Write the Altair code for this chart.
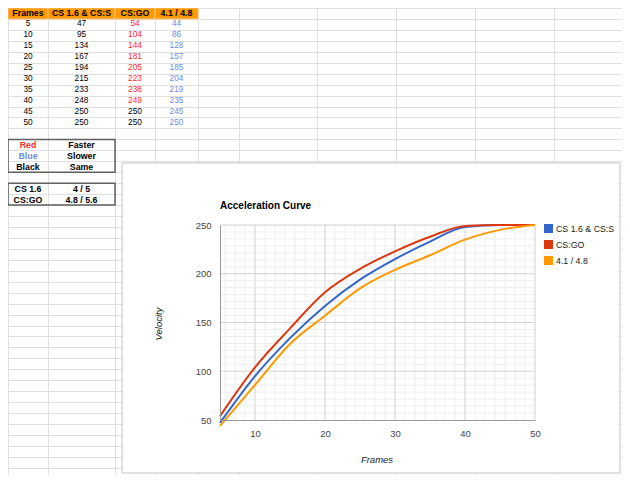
import altair as alt
import pandas as pd

# ---------------- data read from the spreadsheet ----------------
FRAMES = [5, 10, 15, 20, 25, 30, 35, 40, 45, 50]
CS16 = [47, 95, 134, 167, 194, 215, 233, 248, 250, 250]
CSGO = [54, 104, 144, 181, 205, 223, 238, 249, 250, 250]
V41 = [44, 86, 128, 157, 185, 204, 219, 235, 245, 250]
HEADERS = ["Frames", "CS 1.6 & CS:S", "CS:GO", "4.1 / 4.8"]
SERIES = ["CS 1.6 & CS:S", "CS:GO", "4.1 / 4.8"]
KEY_LEFT = ["Red", "Blue", "Black"]
KEY_RIGHT = ["Faster", "Slower", "Same"]
SENS_LEFT = ["CS 1.6", "CS:GO"]
SENS_RIGHT = ["4 / 5", "4.8 / 5.6"]
X_TICKS = [10, 20, 30, 40, 50]
Y_TICKS = [50, 100, 150, 200, 250]

F = "Liberation Sans"
RED = "#ff2a2a"
BLUE = "#6b8de6"
SERIES_COLORS = ["#3366cc", "#dc3912", "#ff9900"]

# ---------------- spreadsheet layers ----------------
COL_EDGES = [0, 40, 107, 147, 190, 231, 309, 388, 467, 546, 625]
ROW_H = 10.95
N_ROWS = 44
SX = alt.Scale(domain=list(range(len(COL_EDGES))), range=COL_EDGES, nice=False, zero=False)
SY = alt.Scale(domain=[0, N_ROWS], range=[0, N_ROWS * ROW_H], nice=False, zero=False)
TONE = alt.Scale(domain=["red", "blue", "black"], range=[RED, BLUE, "#000000"])


def tone_vs_base(v, base):
    if v > base:
        return "red"
    if v < base:
        return "blue"
    return "black"


header_cells = pd.DataFrame({
    "c0": list(range(len(HEADERS))),
    "c1": [i + 1 for i in range(len(HEADERS))],
    "r0": [0] * len(HEADERS),
    "r1": [1] * len(HEADERS),
})

bold_rows, plain_rows = [], []
for j, h in enumerate(HEADERS):
    bold_rows.append({"c": j + 0.5, "r": 0.5, "t": h, "tone": "black"})
for i in range(len(FRAMES)):
    r = i + 1.5
    plain_rows.append({"c": 0.5, "r": r, "t": str(FRAMES[i]), "tone": "black"})
    plain_rows.append({"c": 1.5, "r": r, "t": str(CS16[i]), "tone": "black"})
    plain_rows.append({"c": 2.5, "r": r, "t": str(CSGO[i]), "tone": tone_vs_base(CSGO[i], CS16[i])})
    # the whole 4.1 / 4.8 column is coloured blue in the sheet
    plain_rows.append({"c": 3.5, "r": r, "t": str(V41[i]), "tone": "blue"})
key_start = len(FRAMES) + 2
for i, (a, b) in enumerate(zip(KEY_LEFT, KEY_RIGHT)):
    bold_rows.append({"c": 0.5, "r": key_start + i + 0.5, "t": a, "tone": a.lower()})
    bold_rows.append({"c": 1.5, "r": key_start + i + 0.5, "t": b, "tone": "black"})
sens_start = key_start + len(KEY_LEFT) + 1
for i, (a, b) in enumerate(zip(SENS_LEFT, SENS_RIGHT)):
    bold_rows.append({"c": 0.5, "r": sens_start + i + 0.5, "t": a, "tone": "black"})
    bold_rows.append({"c": 1.5, "r": sens_start + i + 0.5, "t": b, "tone": "black"})

boxes = pd.DataFrame({
    "c0": [0, 0], "c1": [2, 2],
    "r0": [key_start, sens_start],
    "r1": [key_start + len(KEY_LEFT), sens_start + len(SENS_LEFT)],
})

sheet_x_axis = alt.Axis(values=list(range(len(COL_EDGES))), grid=True, gridColor="#e0e0e0",
                        labels=False, ticks=False, domain=False, title=None, orient="top", zindex=0)
sheet_y_axis = alt.Axis(values=list(range(N_ROWS + 1)), grid=True, gridColor="#e0e0e0",
                        labels=False, ticks=False, domain=False, title=None, orient="right", zindex=0)

header_rect = alt.Chart(header_cells).mark_rect(color="#ff9900", stroke="#f7c27a", strokeWidth=1).encode(
    x=alt.X("c0:Q", scale=SX, axis=sheet_x_axis), x2="c1:Q",
    y=alt.Y("r0:Q", scale=SY, axis=sheet_y_axis), y2="r1:Q",
)
box_rect = alt.Chart(boxes).mark_rect(fillOpacity=0, stroke="#5f5f5f", strokeWidth=1.5).encode(
    x=alt.X("c0:Q", scale=SX, axis=None), x2="c1:Q",
    y=alt.Y("r0:Q", scale=SY, axis=None), y2="r1:Q",
)
bold_text = alt.Chart(pd.DataFrame(bold_rows)).mark_text(
    font=F, fontSize=8.8, fontWeight="bold", baseline="middle", align="center").encode(
    x=alt.X("c:Q", scale=SX, axis=None), y=alt.Y("r:Q", scale=SY, axis=None),
    text="t:N", color=alt.Color("tone:N", scale=TONE, legend=None),
)
plain_text = alt.Chart(pd.DataFrame(plain_rows)).mark_text(
    font=F, fontSize=8.3, baseline="middle", align="center").encode(
    x=alt.X("c:Q", scale=SX, axis=None), y=alt.Y("r:Q", scale=SY, axis=None),
    text="t:N", color=alt.Color("tone:N", scale=TONE, legend=None),
)

# ---------------- chart layers ----------------
lines = pd.DataFrame({
    "frames": FRAMES * 3,
    "velocity": CS16 + CSGO + V41,
    "series": [SERIES[0]] * len(FRAMES) + [SERIES[1]] * len(FRAMES) + [SERIES[2]] * len(FRAMES),
})
XS = alt.Scale(domain=[5, 50], range=[212, 527], nice=False, zero=False)
YS = alt.Scale(domain=[50, 250], range=[412, 217], nice=False, zero=False)
CS = alt.Scale(domain=SERIES, range=SERIES_COLORS)

x_minor = [10 + k * 10 / 7 for k in range(-3, 28) if k % 7 != 0]
y_minor = [50 + k * 50 / 7 for k in range(1, 28) if k % 7 != 0]
x_major = X_TICKS
y_major = Y_TICKS[1:]

one = pd.DataFrame({"a": [0]})
frame_box = alt.Chart(one).mark_rect(fill="white", stroke="#c4c4c4", strokeWidth=1).encode(
    x=alt.value(114), x2=alt.value(612), y=alt.value(155), y2=alt.value(465))


def vrules(vals, color):
    return alt.Chart(pd.DataFrame({"g": vals})).mark_rule(color=color, strokeWidth=1).encode(
        x=alt.X("g:Q", scale=XS, axis=None),
        y=alt.YDatum(50, scale=YS, axis=None), y2=alt.Y2Datum(250))


def hrules(vals, color):
    return alt.Chart(pd.DataFrame({"g": vals})).mark_rule(color=color, strokeWidth=1).encode(
        y=alt.Y("g:Q", scale=YS, axis=None),
        x=alt.XDatum(5, scale=XS, axis=None), x2=alt.X2Datum(50))


x_axis = alt.Axis(values=X_TICKS, orient="bottom", offset=-55, zindex=1, grid=False, ticks=False,
                  domainColor="#999999", domainWidth=1, labelColor="#444444", labelFont=F,
                  labelFontSize=9.5, labelPadding=8, labelFlush=False, labelOverlap=False, title=None)
y_axis = alt.Axis(values=Y_TICKS, orient="left", offset=-212, zindex=1, grid=False, ticks=False,
                  domainColor="#999999", domainWidth=1, labelColor="#444444", labelFont=F,
                  labelFontSize=9.5, labelPadding=9, labelFlush=False, labelOverlap=False, title=None)

curve = alt.Chart(lines).mark_line(interpolate="monotone", strokeWidth=2).encode(
    x=alt.X("frames:Q", scale=XS, axis=x_axis),
    y=alt.Y("velocity:Q", scale=YS, axis=y_axis),
    color=alt.Color("series:N", scale=CS, legend=None),
)
legend_keys = alt.Chart(lines).mark_square(size=0, filled=True, opacity=1).encode(
    x=alt.X("frames:Q", scale=XS, axis=None),
    y=alt.Y("velocity:Q", scale=YS, axis=None),
    color=alt.Color("series:N", scale=CS, legend=alt.Legend(
        orient="none", legendX=536, legendY=216, title=None, symbolType="square", symbolSize=81,
        symbolStrokeWidth=0, labelFont=F, labelFontSize=8.8, labelColor="#222222",
        labelOffset=3, rowPadding=6, padding=0)),
)

title_txt = alt.Chart(one).mark_text(text="Acceleration Curve", font=F, fontSize=10, fontWeight="bold",
                                     align="left", baseline="alphabetic", color="#000000").encode(
    x=alt.value(212), y=alt.value(200.5))
ytitle = alt.Chart(one).mark_text(text="Velocity", font=F, fontSize=9.5, fontStyle="italic", angle=270,
                                  align="center", baseline="middle", color="#222222").encode(
    x=alt.value(151), y=alt.value(316))
xtitle = alt.Chart(one).mark_text(text="Frames", font=F, fontSize=9.5, fontStyle="italic",
                                  align="center", baseline="middle", color="#222222").encode(
    x=alt.value(369), y=alt.value(452))

chart = alt.layer(
    header_rect, box_rect, bold_text, plain_text,
    frame_box,
    vrules(x_minor, "#eeeeee"), hrules(y_minor, "#eeeeee"),
    vrules(x_major, "#d2d2d2"), hrules(y_major, "#d2d2d2"),
    curve, legend_keys, title_txt, ytitle, xtitle,
).resolve_scale(
    x="independent", y="independent", color="independent"
).properties(
    width=614, height=467, padding=0, background="white",
    autosize=alt.AutoSizeParams(type="none"),
).configure_view(stroke=None)

chart.save("out.html", embed_options={"renderer": "svg", "actions": False})
